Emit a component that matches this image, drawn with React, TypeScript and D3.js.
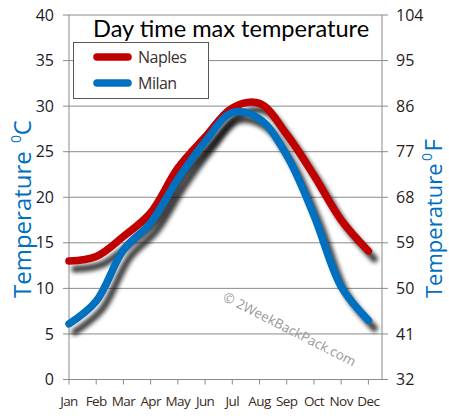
import React from "react";
import * as d3 from "d3";

const months = ["Jan", "Feb", "Mar", "Apr", "May", "Jun", "Jul", "Aug", "Sep", "Oct", "Nov", "Dec"];
const naples = [13, 13.5, 15.7, 18.3, 23.2, 26.6, 29.8, 30.3, 26.9, 22.4, 17.5, 14.1];
const milan = [6.1, 8.6, 14.2, 17.2, 22.0, 26.1, 29.3, 28.6, 24.6, 18.0, 10.2, 6.5];
const celsiusTicks = [0, 5, 10, 15, 20, 25, 30, 35, 40];
const fahrenheitTicks = [32, 41, 50, 59, 68, 77, 86, 95, 104];
const seriesNames = ["Naples", "Milan"];
const seriesColors = ["#c00000", "#0070c0"];

const W = 449;
const H = 420;
const left = 69;
const right = 382;
const top = 15;
const bottom = 379.5;

export default function App() {
  const x = d3.scaleLinear().domain([0, months.length - 0.5]).range([left, right]);
  const y = d3.scaleLinear().domain([0, 40]).range([bottom, top]);
  const yF = d3.scaleLinear().domain([32, 104]).range([bottom, top]);
  const line = d3
    .line<number>()
    .x((_, i) => x(i))
    .y((d) => y(d))
    .curve(d3.curveCatmullRom.alpha(0.5));
  const series = [naples, milan];
  const font = "'Open Sans', sans-serif";

  return (
    <svg
      width={W}
      height={H}
      style={{ position: "absolute", left: 0, top: 0, background: "#fff" }}
    >
      <defs>
        <filter id="shadow" x="-10%" y="-10%" width="130%" height="130%">
          <feGaussianBlur stdDeviation="2.2" />
        </filter>
      </defs>
      <rect width={W} height={H} fill="#fff" />
      {/* gridlines */}
      {celsiusTicks.map((t) => (
        <line key={"g" + t} x1={left - 6} x2={right + 6} y1={y(t)} y2={y(t)} stroke="#8a8a8a" strokeWidth={1} />
      ))}
      <line x1={left} x2={left} y1={top} y2={bottom} stroke="#8a8a8a" />
      <line x1={right} x2={right} y1={top} y2={bottom} stroke="#8a8a8a" />
      {months.map((m, i) => (
        <line key={"t" + m} x1={x(i)} x2={x(i)} y1={bottom} y2={bottom + 5} stroke="#8a8a8a" />
      ))}
      {/* tick labels */}
      {celsiusTicks.map((t) => (
        <text key={"l" + t} x={54} y={y(t)} dy="0.35em" textAnchor="end" fontFamily={font} fontSize={16} fill="#1a1a2e">
          {t}
        </text>
      ))}
      {fahrenheitTicks.map((t) => (
        <text key={"r" + t} x={396} y={yF(t)} dy="0.35em" textAnchor="start" fontFamily={font} fontSize={16} fill="#2a1a1a">
          {t}
        </text>
      ))}
      {months.map((m, i) => (
        <text key={"m" + m} x={x(i)} y={406} textAnchor="middle" fontFamily={font} fontSize={13.5} letterSpacing={-0.6} fill="#3a2a22">
          {m}
        </text>
      ))}
      {/* watermark */}
      <text transform="translate(222,300) rotate(27)" fontFamily={font} fontSize={13.5} fill="#9a9a9a">
        © 2WeekBackPack.com
      </text>
      {/* lines */}
      {series.map((s, k) => (
        <g key={"s" + k}>
          <path
            d={line(s) || ""}
            transform="translate(6,8)"
            fill="none"
            stroke="#000"
            strokeOpacity={0.75}
            strokeWidth={7}
            strokeLinecap="round"
            filter="url(#shadow)"
          />
          <path d={line(s) || ""} fill="none" stroke={seriesColors[k]} strokeWidth={7.5} strokeLinecap="round" />
        </g>
      ))}
      {/* title */}
      <text x={93} y={37} fontFamily="Lato, sans-serif" fontSize={23.6} fill="#000">
        Day time max temperature
      </text>
      {/* legend */}
      <rect x={73.5} y={42.5} width={135} height={56} fill="#fff" stroke="#555" strokeWidth={1} />
      {seriesNames.map((n, k) => (
        <g key={"lg" + n}>
          <line x1={97} x2={128} y1={57 + k * 26} y2={57 + k * 26} stroke={seriesColors[k]} strokeWidth={7.5} strokeLinecap="round" />
          <text x={138} y={57 + k * 26} dy="0.35em" fontFamily={font} fontSize={16} letterSpacing={-0.5} fill="#3a3030">
            {n}
          </text>
        </g>
      ))}
      {/* left axis title */}
      <text transform="translate(31,298) rotate(-90)" textAnchor="start" fontFamily={font} fontSize={24} fill="#0070c0">
        Temperature
      </text>
      <text transform="translate(21,139) rotate(-90)" textAnchor="middle" fontFamily={font} fontSize={14} fill="#0070c0">
        0
      </text>
      <text transform="translate(31,120) rotate(-90)" textAnchor="end" fontFamily={font} fontSize={24} fill="#0070c0">
        C
      </text>
      {/* right axis title */}
      <text transform="translate(442,298) rotate(-90)" textAnchor="start" fontFamily={font} fontSize={22} fill="#0070c0">
        Temperature
      </text>
      <text transform="translate(432,157) rotate(-90)" textAnchor="middle" fontFamily={font} fontSize={14} fill="#0070c0">
        0
      </text>
      <text transform="translate(442,139) rotate(-90)" textAnchor="end" fontFamily={font} fontSize={24} fill="#0070c0">
        F
      </text>
    </svg>
  );
}
